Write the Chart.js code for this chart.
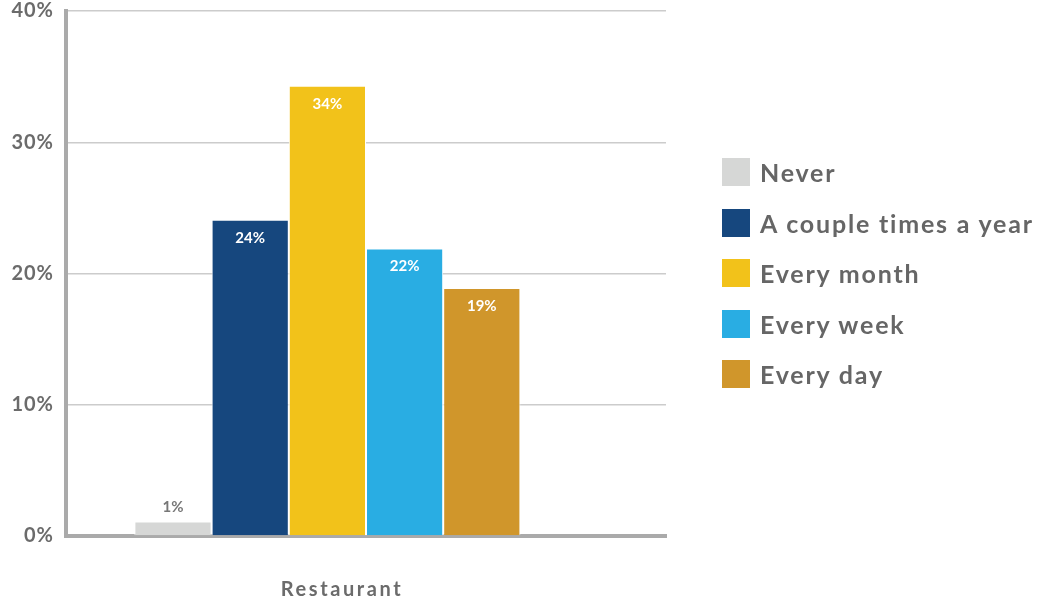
<!DOCTYPE html>
<html lang="en">
<head>
  <meta charset="UTF-8" />
  <title>Restaurant frequency</title>
  <style>
    body {
      margin: 0;
      background: #fff;
      font-family: Lato, Arial, sans-serif;
    }
    .wrap {
      position: relative;
      width: 1039px;
      height: 602px;
    }
    #legend {
      position: absolute;
      left: 722px;
      top: 158px;
      margin: 0;
      padding: 0;
      list-style: none;
    }
    #legend li {
      display: flex;
      align-items: center;
      height: 28px;
      margin-bottom: 22.5px;
      font-size: 25px;
      font-weight: 700;
      letter-spacing: 1.8px;
      color: #666;
      white-space: nowrap;
    }
    #legend span {
      display: inline-block;
      width: 28px;
      height: 28px;
      margin-right: 10px;
    }
  </style>
</head>
<body>
  <div class="wrap">
    <canvas id="chart" width="1039" height="602"></canvas>
    <ul id="legend"></ul>
  </div>

  <script src="https://cdn.jsdelivr.net/npm/chart.js"></script>
  <script>
    // categories and series
    const categories = ['Restaurant'];
    const seriesNames = ['Never', 'A couple times a year', 'Every month', 'Every week', 'Every day'];
    const seriesValues = [1.1, 24.1, 34.3, 21.9, 18.9];
    const seriesColors = ['#d6d7d6', '#16477e', '#f2c21a', '#29ade3', '#d0962b'];
    const yTicks = [0, 10, 20, 30, 40];

    const datasets = seriesNames.map((name, i) => ({
      label: name,
      data: [seriesValues[i]],
      backgroundColor: seriesColors[i],
      borderColor: '#ffffff',
      borderWidth: 1
    }));
    // empty slot so the bar group sits where the original does
    datasets.push({ label: '', data: [null], backgroundColor: 'transparent' });

    // letter spacing: y ticks are drawn before the bars, x ticks after (z: 1)
    const spacing = {
      id: 'spacing',
      beforeDraw(chart) { chart.ctx.letterSpacing = '1px'; },
      afterDatasetsDraw(chart) { chart.ctx.letterSpacing = '2.6px'; }
    };

    // value labels on the bars
    const barLabels = {
      id: 'barLabels',
      afterDatasetsDraw(chart) {
        const ctx = chart.ctx;
        ctx.save();
        ctx.letterSpacing = '0px';
        ctx.font = 'bold 15px Lato, Arial, sans-serif';
        ctx.textAlign = 'center';
        ctx.textBaseline = 'middle';
        seriesValues.forEach((v, i) => {
          const bar = chart.getDatasetMeta(i).data[0];
          if (!bar) return;
          const h = bar.base - bar.y;
          if (h > 30) {
            ctx.fillStyle = '#ffffff';
            ctx.fillText(Math.round(v) + '%', bar.x, bar.y + 18);
          } else {
            ctx.fillStyle = '#777';
            ctx.fillText(Math.round(v) + '%', bar.x, bar.y - 14);
          }
        });
        ctx.restore();
      }
    };

    new Chart(document.getElementById('chart'), {
      type: 'bar',
      data: { labels: categories, datasets: datasets },
      plugins: [barLabels, spacing],
      options: {
        responsive: false,
        animation: false,
        layout: { padding: { top: 11, right: 373, bottom: 0, left: 0 } },
        datasets: { bar: { categoryPercentage: 0.772, barPercentage: 1 } },
        plugins: {
          legend: { display: false },
          tooltip: { enabled: false }
        },
        scales: {
          x: {
            afterFit: (scale) => { scale.height = 66; },
            grid: { display: false, drawTicks: false },
            border: { color: '#aaaaaa', width: 4 },
            ticks: {
              z: 1,
              color: '#6b6b6b',
              padding: 42,
              maxRotation: 0,
              labelOffset: -24,
              font: { family: 'Lato', size: 20, weight: 'bold' }
            }
          },
          y: {
            min: 0,
            max: 40,
            afterFit: (scale) => {
              scale.width = 66;
              scale.paddingTop = 0;
            },
            afterBuildTicks: (scale) => { scale.ticks = yTicks.map(v => ({ value: v })); },
            grid: { color: '#cccccc', lineWidth: 1.5, drawTicks: false },
            border: { color: '#aaaaaa', width: 4 },
            ticks: {
              color: '#6b6b6b',
              padding: 12,
              font: { family: 'Lato', size: 20, weight: 'bold' },
              callback: (v) => v + '%'
            }
          }
        }
      }
    });

    // legend in HTML
    const legend = document.getElementById('legend');
    seriesNames.forEach((name, i) => {
      const li = document.createElement('li');
      li.innerHTML = '<span style="background:' + seriesColors[i] + '"></span>' + name;
      legend.appendChild(li);
    });
  </script>
</body>
</html>
